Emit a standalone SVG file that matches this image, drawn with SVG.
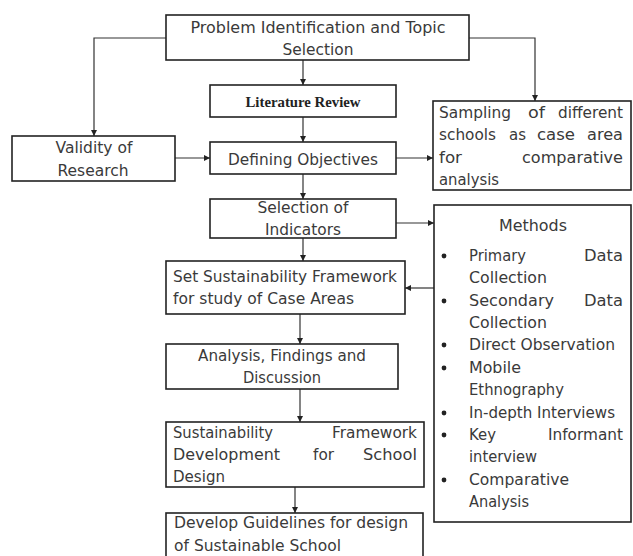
<svg xmlns="http://www.w3.org/2000/svg" width="633" height="556" viewBox="0 0 633 556">
<style>
.box{fill:#fff;stroke:#222;stroke-width:1.6}
.t{font-family:"DejaVu Sans","Liberation Sans",sans-serif;font-size:15px;fill:#3a3a3a}
.c{text-anchor:middle}
.e{text-anchor:end}
.lit{font-family:"Liberation Serif",serif;font-size:15px;font-weight:bold;fill:#222;text-anchor:middle}
.ln{fill:none;stroke:#333;stroke-width:1.2;marker-end:url(#ah)}
.dot{fill:#222}
</style>
<defs>
<marker id="ah" viewBox="0 0 10 10" refX="10" refY="5" markerWidth="6" markerHeight="6" markerUnits="userSpaceOnUse" orient="auto">
<path d="M0,0 L10,5 L0,10 z" fill="#222"/>
</marker>
</defs>
<rect width="633" height="556" fill="#fff"/>
<g id="connectors">
<polyline class="ln" points="166,38 94,38 94,136"/>
<polyline class="ln" points="469,38 535,38 535,101"/>
<line class="ln" x1="303" y1="60" x2="303" y2="85"/>
<line class="ln" x1="303" y1="117" x2="303" y2="142"/>
<line class="ln" x1="175" y1="158" x2="210" y2="158"/>
<line class="ln" x1="396" y1="158" x2="433" y2="158"/>
<line class="ln" x1="303" y1="174" x2="303" y2="199"/>
<line class="ln" x1="303" y1="238" x2="303" y2="261"/>
<line class="ln" x1="396" y1="223" x2="434" y2="223"/>
<line class="ln" x1="434" y1="288" x2="405" y2="288"/>
<line class="ln" x1="300" y1="314" x2="300" y2="344"/>
<line class="ln" x1="300" y1="389" x2="300" y2="422"/>
<line class="ln" x1="295" y1="487" x2="295" y2="513"/>
</g>
<g id="problem">
<rect class="box" x="166" y="15" width="303" height="45"/>
<text class="t c" x="318" y="33" textLength="255" lengthAdjust="spacingAndGlyphs">Problem Identification and Topic</text>
<text class="t c" x="318" y="55" textLength="71" lengthAdjust="spacingAndGlyphs">Selection</text>
</g>
<g id="literature">
<rect class="box" x="210" y="85" width="186" height="32" stroke-width="2"/>
<text class="lit" x="303" y="107" textLength="115" lengthAdjust="spacingAndGlyphs">Literature Review</text>
</g>
<g id="validity">
<rect class="box" x="12" y="136" width="163" height="45" stroke-width="2"/>
<text class="t c" x="94" y="153" textLength="77" lengthAdjust="spacingAndGlyphs">Validity of</text>
<text class="t c" x="93" y="176" textLength="71" lengthAdjust="spacingAndGlyphs">Research</text>
</g>
<g id="objectives">
<rect class="box" x="210" y="142" width="186" height="32"/>
<text class="t c" x="303" y="165" textLength="150" lengthAdjust="spacingAndGlyphs">Defining Objectives</text>
</g>
<g id="sampling">
<rect class="box" x="433" y="101" width="198" height="89"/>
<text class="t" x="439" y="118" textLength="72" lengthAdjust="spacingAndGlyphs">Sampling</text>
<text class="t" x="528" y="118" textLength="17" lengthAdjust="spacingAndGlyphs">of</text>
<text class="t e" x="623" y="118" textLength="65" lengthAdjust="spacingAndGlyphs">different</text>
<text class="t" x="439" y="140" textLength="57" lengthAdjust="spacingAndGlyphs">schools</text>
<text class="t" x="509" y="140" textLength="17" lengthAdjust="spacingAndGlyphs">as</text>
<text class="t" x="537" y="140" textLength="38" lengthAdjust="spacingAndGlyphs">case</text>
<text class="t e" x="623" y="140" textLength="36" lengthAdjust="spacingAndGlyphs">area</text>
<text class="t" x="439" y="163" textLength="23" lengthAdjust="spacingAndGlyphs">for</text>
<text class="t e" x="623" y="163" textLength="101" lengthAdjust="spacingAndGlyphs">comparative</text>
<text class="t" x="439" y="185" textLength="60" lengthAdjust="spacingAndGlyphs">analysis</text>
</g>
<g id="indicators">
<rect class="box" x="210" y="199" width="186" height="39"/>
<text class="t c" x="303" y="213" textLength="91" lengthAdjust="spacingAndGlyphs">Selection of</text>
<text class="t c" x="303" y="235" textLength="76" lengthAdjust="spacingAndGlyphs">Indicators</text>
</g>
<g id="framework">
<rect class="box" x="166" y="261" width="239" height="53"/>
<text class="t" x="173" y="282" textLength="224" lengthAdjust="spacingAndGlyphs">Set Sustainability Framework</text>
<text class="t" x="173" y="304" textLength="181" lengthAdjust="spacingAndGlyphs">for study of Case Areas</text>
</g>
<g id="methods">
<rect class="box" x="434" y="205" width="197" height="317"/>
<text class="t c" x="533" y="231" textLength="68" lengthAdjust="spacingAndGlyphs">Methods</text>
<circle class="dot" cx="444" cy="256" r="2.4"/>
<text class="t" x="469" y="261" textLength="57" lengthAdjust="spacingAndGlyphs">Primary</text>
<text class="t e" x="623" y="261" textLength="39" lengthAdjust="spacingAndGlyphs">Data</text>
<text class="t" x="469" y="283" textLength="78" lengthAdjust="spacingAndGlyphs">Collection</text>
<circle class="dot" cx="444" cy="301" r="2.4"/>
<text class="t" x="469" y="306" textLength="85" lengthAdjust="spacingAndGlyphs">Secondary</text>
<text class="t e" x="623" y="306" textLength="39" lengthAdjust="spacingAndGlyphs">Data</text>
<text class="t" x="469" y="328" textLength="78" lengthAdjust="spacingAndGlyphs">Collection</text>
<circle class="dot" cx="444" cy="345" r="2.4"/>
<text class="t" x="469" y="350" textLength="146" lengthAdjust="spacingAndGlyphs">Direct Observation</text>
<circle class="dot" cx="444" cy="368" r="2.4"/>
<text class="t" x="469" y="373" textLength="52" lengthAdjust="spacingAndGlyphs">Mobile</text>
<text class="t" x="469" y="395" textLength="95" lengthAdjust="spacingAndGlyphs">Ethnography</text>
<circle class="dot" cx="444" cy="413" r="2.4"/>
<text class="t" x="469" y="418" textLength="146" lengthAdjust="spacingAndGlyphs">In-depth Interviews</text>
<circle class="dot" cx="444" cy="435" r="2.4"/>
<text class="t" x="469" y="440" textLength="27" lengthAdjust="spacingAndGlyphs">Key</text>
<text class="t e" x="623" y="440" textLength="75" lengthAdjust="spacingAndGlyphs">Informant</text>
<text class="t" x="469" y="462" textLength="68" lengthAdjust="spacingAndGlyphs">interview</text>
<circle class="dot" cx="444" cy="480" r="2.4"/>
<text class="t" x="469" y="485" textLength="100" lengthAdjust="spacingAndGlyphs">Comparative</text>
<text class="t" x="469" y="507" textLength="60" lengthAdjust="spacingAndGlyphs">Analysis</text>
</g>
<g id="analysis">
<rect class="box" x="166" y="344" width="232" height="45"/>
<text class="t c" x="282" y="361" textLength="168" lengthAdjust="spacingAndGlyphs">Analysis, Findings and</text>
<text class="t c" x="282" y="383" textLength="78" lengthAdjust="spacingAndGlyphs">Discussion</text>
</g>
<g id="development">
<rect class="box" x="166" y="422" width="258" height="65"/>
<text class="t" x="173" y="438" textLength="100" lengthAdjust="spacingAndGlyphs">Sustainability</text>
<text class="t e" x="417" y="438" textLength="85" lengthAdjust="spacingAndGlyphs">Framework</text>
<text class="t" x="173" y="460" textLength="107" lengthAdjust="spacingAndGlyphs">Development</text>
<text class="t" x="313" y="460" textLength="21" lengthAdjust="spacingAndGlyphs">for</text>
<text class="t e" x="417" y="460" textLength="54" lengthAdjust="spacingAndGlyphs">School</text>
<text class="t" x="173" y="482" textLength="52" lengthAdjust="spacingAndGlyphs">Design</text>
</g>
<g id="guidelines">
<rect class="box" x="166" y="513" width="257" height="60"/>
<text class="t" x="174" y="528" textLength="234" lengthAdjust="spacingAndGlyphs">Develop Guidelines for design</text>
<text class="t" x="174" y="551" textLength="167" lengthAdjust="spacingAndGlyphs">of Sustainable School</text>
</g>
</svg>
